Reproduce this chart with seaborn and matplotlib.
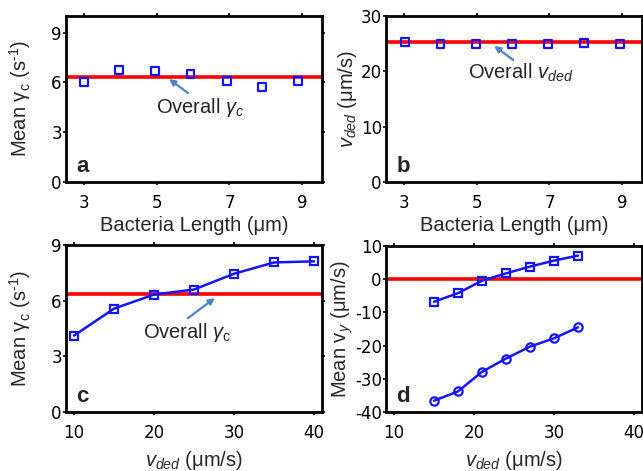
import matplotlib
matplotlib.use("Agg")
import matplotlib.pyplot as plt
import seaborn as sns
import numpy as np
import pandas as pd

# ---- data ----
length_a = [3.0, 3.97, 4.95, 5.93, 6.93, 7.9, 8.88]
gamma_a = [6.02, 6.77, 6.67, 6.50, 6.10, 5.72, 6.06]
gamma_overall = 6.35

length_b = [3.02, 4.0, 4.97, 5.97, 6.95, 7.95, 8.95]
vded_b = [25.35, 25.0, 25.0, 24.9, 25.0, 25.1, 24.9]
vded_overall = 25.25

vded_c = [10, 15, 20, 25, 30, 35, 40]
gamma_c = [4.12, 5.57, 6.33, 6.60, 7.45, 8.06, 8.12]

vded_d = [15, 18, 21, 24, 27, 30, 33]
vy_sq = [-6.8, -4.2, -0.45, 1.75, 3.8, 5.6, 7.1]
vy_circ = [-36.6, -33.8, -27.9, -23.9, -20.3, -17.8, -14.5]
vy_ref = 0.0

xticks_ab = [3, 5, 7, 9]
xticks_cd = [10, 20, 30, 40]
yticks_d = [-40, -30, -20, -10, 0, 10]
yticklabels_d = ['-40', '-30', '-20', '-10', '0', '10']

sns.set_theme(style="ticks")
plt.rcParams['font.family'] = ['Liberation Sans', 'DejaVu Sans']
plt.rcParams['mathtext.fontset'] = 'custom'
plt.rcParams['mathtext.rm'] = 'Liberation Sans'
plt.rcParams['mathtext.it'] = 'Liberation Sans:italic'
plt.rcParams['mathtext.bf'] = 'Liberation Sans:bold'

BLUE = '#1414ff'
RED = '#ff0000'
ARROW = '#4a86c5'
FS = 14.5
TFS = 12

W, H = 643, 471
fig = plt.figure(figsize=(W / 100, H / 100), dpi=100)


def make_ax(l, r, t, b):
    return fig.add_axes([l / W, 1 - b / H, (r - l) / W, (b - t) / H])


def style(ax):
    for s in ax.spines.values():
        s.set_linewidth(2.0)
        s.set_color('black')
        s.set_visible(True)
    ax.tick_params(which='both', direction='out', length=2.5, width=1.2,
                   labelsize=TFS, top=True, right=True, colors='black')
    ax.tick_params(axis='x', labeltop=False, pad=6.5)
    ax.tick_params(axis='y', labelright=False, pad=0.5)
    for lab in ax.get_xticklabels() + ax.get_yticklabels():
        lab.set_fontfamily(['DejaVu Sans'])


def arrow(ax, tail, head):
    ax.annotate('', xy=head, xytext=tail,
                arrowprops=dict(arrowstyle='-|>', color=ARROW, lw=1.6,
                                shrinkA=0, shrinkB=0, mutation_scale=9))


ax_a = make_ax(66, 322, 16, 182)
ax_b = make_ax(386, 642, 16, 182)
ax_c = make_ax(66, 322, 245, 412)
ax_d = make_ax(386, 642, 246, 412)

ylab_gamma = r'Mean $\mathrm{\gamma}_\mathrm{c}$ (s$^{\mathrm{‐1}}$)'

# ---- panel a ----
sns.scatterplot(x=length_a, y=gamma_a, ax=ax_a, marker='s', s=32,
                facecolor='none', edgecolor=BLUE, linewidth=1.6, zorder=3)
ax_a.axhline(gamma_overall, color=RED, lw=2.6, zorder=2)
ax_a.set_xlim(2.5, 9.55)
ax_a.set_ylim(0, 10)
ax_a.set_xticks(xticks_ab)
ax_a.set_yticks([0, 3, 6, 9])
ax_a.set_xlabel('Bacteria Length (μm)', fontsize=FS)
ax_a.xaxis.set_label_coords(0.5, -0.205)
ax_a.set_ylabel(ylab_gamma, fontsize=FS)
ax_a.yaxis.set_label_coords(-0.13, 0.5)
ax_a.text(6.19, 4.46, r'Overall $\gamma_c$', fontsize=FS, ha='center', va='center')
arrow(ax_a, (5.86, 5.36), (5.34, 6.2))
ax_a.text(0.04, 0.06, 'a', transform=ax_a.transAxes, fontsize=16, fontweight='bold')
style(ax_a)

# ---- panel b ----
sns.scatterplot(x=length_b, y=vded_b, ax=ax_b, marker='s', s=32,
                facecolor='none', edgecolor=BLUE, linewidth=1.6, zorder=3)
ax_b.axhline(vded_overall, color=RED, lw=2.6, zorder=2)
ax_b.set_xlim(2.5, 9.55)
ax_b.set_ylim(0, 30)
ax_b.set_xticks(xticks_ab)
ax_b.set_yticks([0, 10, 20, 30])
ax_b.set_xlabel('Bacteria Length (μm)', fontsize=FS)
ax_b.xaxis.set_label_coords(0.5, -0.205)
ax_b.set_ylabel(r'$v_{ded}$ (μm/s)', fontsize=FS)
ax_b.yaxis.set_label_coords(-0.105, 0.5)
ax_b.text(6.22, 19.7, r'Overall $v_{ded}$', fontsize=FS, ha='center', va='center')
arrow(ax_b, (6.0, 22.05), (5.48, 24.6))
ax_b.text(0.04, 0.06, 'b', transform=ax_b.transAxes, fontsize=16, fontweight='bold')
style(ax_b)

# ---- panel c ----
sns.lineplot(x=vded_c, y=gamma_c, ax=ax_c, color=BLUE, lw=1.8, marker='s',
             markersize=6, markerfacecolor='none', markeredgecolor=BLUE,
             markeredgewidth=1.6, zorder=3)
ax_c.axhline(gamma_overall, color=RED, lw=2.6, zorder=2)
ax_c.set_xlim(9, 41)
ax_c.set_ylim(0, 9)
ax_c.set_xticks(xticks_cd)
ax_c.set_yticks([0, 3, 6, 9])
ax_c.set_xlabel(r'$v_{ded}$ (μm/s)', fontsize=FS)
ax_c.xaxis.set_label_coords(0.5, -0.222)
ax_c.set_ylabel(ylab_gamma, fontsize=FS)
ax_c.yaxis.set_label_coords(-0.13, 0.5)
ax_c.text(24.1, 4.26, r'Overall $\gamma_\mathrm{c}$', fontsize=FS, ha='center', va='center')
arrow(ax_c, (24.25, 5.06), (27.6, 6.14))
ax_c.text(0.04, 0.06, 'c', transform=ax_c.transAxes, fontsize=16, fontweight='bold')
style(ax_c)

# ---- panel d ----
sns.lineplot(x=vded_d, y=vy_sq, ax=ax_d, color=BLUE, lw=1.8, marker='s',
             markersize=6, markerfacecolor='none', markeredgecolor=BLUE,
             markeredgewidth=1.6, zorder=3)
sns.lineplot(x=vded_d, y=vy_circ, ax=ax_d, color=BLUE, lw=1.8, marker='o',
             markersize=6, markerfacecolor='none', markeredgecolor=BLUE,
             markeredgewidth=1.6, zorder=3)
ax_d.axhline(vy_ref, color=RED, lw=2.6, zorder=2)
ax_d.set_xlim(9, 41)
ax_d.set_ylim(-40, 10)
ax_d.set_xticks(xticks_cd)
ax_d.set_yticks(yticks_d)
ax_d.set_yticklabels(yticklabels_d)
ax_d.set_xlabel(r'$v_{ded}$ (μm/s)', fontsize=FS)
ax_d.xaxis.set_label_coords(0.5, -0.222)
ax_d.set_ylabel(r'Mean v$_{y}$ (μm/s)', fontsize=FS)
ax_d.yaxis.set_label_coords(-0.12, 0.5)
ax_d.text(0.04, 0.06, 'd', transform=ax_d.transAxes, fontsize=16, fontweight='bold')
style(ax_d)

fig.savefig('out.png', dpi=100)
